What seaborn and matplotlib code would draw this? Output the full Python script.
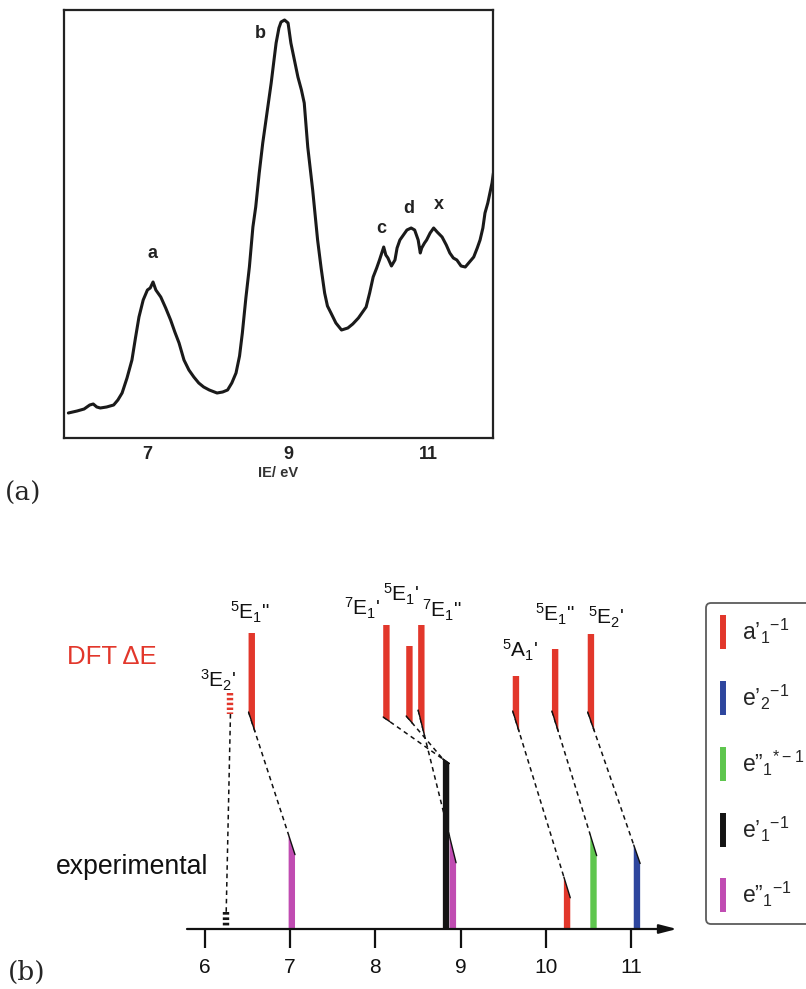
import numpy as np
import matplotlib
matplotlib.use('Agg')
import matplotlib.pyplot as plt
import seaborn as sns
from matplotlib.lines import Line2D

# ---- (a) photoelectron spectrum ----
ie_ev = [5.876, 6.00, 6.10, 6.18, 6.23, 6.28, 6.33, 6.42, 6.52, 6.58, 6.64, 6.71, 6.78, 6.83,
         6.88, 6.94, 7.00, 7.04, 7.08, 7.12, 7.19, 7.26, 7.33, 7.39, 7.45, 7.52, 7.59, 7.66,
         7.73, 7.80, 7.88, 7.99, 8.07, 8.14, 8.20, 8.26, 8.31, 8.35, 8.40, 8.45, 8.50, 8.54,
         8.59, 8.64, 8.70, 8.76, 8.80, 8.83, 8.87, 8.90, 8.95, 9.00, 9.04, 9.09, 9.14, 9.19,
         9.23, 9.28, 9.35, 9.42, 9.47, 9.52, 9.56, 9.61, 9.68, 9.76, 9.85, 9.92, 10.00, 10.06,
         10.11, 10.16, 10.21, 10.26, 10.30, 10.36, 10.39, 10.42, 10.47, 10.52, 10.55, 10.59,
         10.64, 10.69, 10.75, 10.80, 10.85, 10.88, 10.90, 10.94, 10.97, 11.02, 11.07, 11.12,
         11.19, 11.25, 11.30, 11.35, 11.40, 11.46, 11.52, 11.58, 11.64, 11.69, 11.73, 11.77,
         11.80, 11.84, 11.87, 11.90, 11.92]
intensity = [25, 27, 29, 33, 34, 31, 30, 31, 33, 38, 45, 60, 78, 100,
             121, 138, 148, 150, 156, 148, 141, 130, 118, 106, 95, 78, 68, 61,
             55, 51, 48, 45, 46, 48, 55, 65, 82, 105, 140, 171, 211, 231,
             265, 295, 325, 355, 378, 395, 410, 416, 418, 415, 395, 378, 361, 348,
             335, 291, 248, 198, 170, 145, 132, 125, 115, 108, 110, 114, 120, 126,
             131, 145, 161, 170, 178, 191, 183, 180, 172, 178, 190, 198,
             203, 208, 210, 208, 198, 185, 190, 195, 198, 205, 210, 206,
             201, 193, 185, 180, 178, 172, 171, 176, 181, 190, 198, 210,
             225, 235, 245, 255, 265]
peak_names = ['a', 'b', 'c', 'd', 'x']
peak_ev = [7.07, 8.60, 10.33, 10.72, 11.15]
peak_int = [185, 405, 210, 230, 234]

# ---- (b) DFT vs experimental ionisation energies ----
dft_states = ["$^3$E$_2$'", '$^5$E$_1$"', "$^7$E$_1$'", "$^5$E$_1$'", '$^7$E$_1$"',
              "$^5$A$_1$'", '$^5$E$_1$"', "$^5$E$_2$'"]
dft_ev = [6.30, 6.55, 8.13, 8.40, 8.54, 9.65, 10.11, 10.53]
dft_top = [236, 296, 304, 283, 304, 253, 280, 295]
dft_bottom = [215, 217, 212, 213, 219, 218, 218, 217]

exp_ev = [6.25, 7.02, 8.83, 8.91, 10.25, 10.56, 11.07]
exp_height = [17, 94, 170, 92, 52, 94, 84]
exp_orbital = ['e1p', 'e1pp', 'e1p', 'e1pp', 'a1p', 'e1pp*', 'e2p']
dft_to_exp = [0, 1, 2, 2, 3, 4, 5, 6]
tentative = [0]          # 3E2' -> dashed assignment

orbitals = ['a1p', 'e2p', 'e1pp*', 'e1p', 'e1pp']
orbital_labels = ['a’$_1$$^{-1}$', 'e’$_2$$^{-1}$', 'e”$_1$$^{*-1}$',
                  'e’$_1$$^{-1}$', 'e”$_1$$^{-1}$']
palette = dict(zip(orbitals, ['#e2372b', '#2e469e', '#5ec64e', '#141414', '#c04cb2']))
dft_color = '#e2372b'

# label offsets (pixels) from the top of each DFT bar
label_offsets = [(-12, 13), (-2, 21), (-24, 17), (-8, 52), (21, 15), (4, 26), (0, 35), (15, 17)]

sns.set_theme(style='white')
plt.rcParams['font.family'] = ['Liberation Sans', 'DejaVu Sans']
plt.rcParams['mathtext.fontset'] = 'custom'
plt.rcParams['mathtext.rm'] = 'Liberation Sans'
plt.rcParams['mathtext.default'] = 'regular'

W, H = 806, 989
fig = plt.figure(figsize=(W / 100, H / 100), dpi=100)


def fbox(x0, y0, x1, y1):
    return [x0 / W, 1 - y1 / H, (x1 - x0) / W, (y1 - y0) / H]


# ---------- panel (a) ----------
ax1 = fig.add_axes(fbox(64, 10, 493, 438))
sns.lineplot(x=ie_ev, y=intensity, sort=False, estimator=None, color='#1a1a1a', lw=2.2, ax=ax1)
for name, xe, yi in zip(peak_names, peak_ev, peak_int):
    ax1.text(xe, yi, name, ha='center', va='center', fontsize=13, fontweight='bold', color='#222')
ax1.set_xlim(5.814, 11.914)
ax1.set_ylim(0, 428)
ax1.set_xticks([7, 9, 11])
ax1.set_yticks([])
ax1.tick_params(axis='x', direction='in', length=14, width=1.6, pad=6,
                labelsize=13, colors='#222')
for lab in ax1.get_xticklabels():
    lab.set_fontweight('bold')
for sp in ax1.spines.values():
    sp.set_color('#222')
    sp.set_linewidth(1.6)
ax1.set_xlabel('IE/ eV', fontsize=10.5, fontweight='bold', color='#333', labelpad=2)
fig.text(5 / W, 1 - 493 / H, '(a)', fontsize=19, family='DejaVu Serif', va='center', ha='left')

# ---------- panel (b) ----------
ax2 = fig.add_axes(fbox(187, 580, 677, 929))
xmin, xmax = 5.79, 11.54
ax2.set_xlim(xmin, xmax)
ax2.set_ylim(0, 349)
w = 0.075

# slope of each assignment line (height per eV)
slopes = []
for i, j in enumerate(dft_to_exp):
    if i in tentative:
        slopes.append(0.0)
    else:
        slopes.append((exp_height[j] - dft_bottom[i]) / (exp_ev[j] - dft_ev[i]))
exp_slope = {}
for i, j in enumerate(dft_to_exp):
    exp_slope.setdefault(j, slopes[i])

# assignment lines
for i, j in enumerate(dft_to_exp):
    if i in tentative:
        ax2.plot([dft_ev[i], exp_ev[j]], [dft_bottom[i], exp_height[j]], color='#111',
                 lw=1.1, ls=(0, (3, 2.5)), zorder=1)
        continue
    s = slopes[i]
    ax0, ay0 = dft_ev[i] - w / 2, dft_bottom[i]
    bx0, by0 = exp_ev[j] - w / 2, exp_height[j]
    ax2.plot([ax0, bx0], [ay0, by0], color='#111', lw=1.1, ls=(0, (3, 2.5)), zorder=1)
    ax2.plot([ax0, ax0 + w], [ay0, ay0 + s * w], color='#111', lw=1.0, zorder=3)
    sj = exp_slope[j]
    ax2.plot([bx0, bx0 + w], [by0, by0 + sj * w], color='#111', lw=1.0, zorder=3)

# DFT bars
for i, e in enumerate(dft_ev):
    if i in tentative:
        ax2.plot([e, e], [dft_top[i], dft_bottom[i]], color=dft_color, lw=4.6,
                 ls=(0, (0.38, 0.38)), solid_capstyle='butt', zorder=2)
    else:
        s = slopes[i]
        xs = [e - w / 2, e + w / 2, e + w / 2, e - w / 2]
        ys = [dft_top[i], dft_top[i], dft_bottom[i] + s * w, dft_bottom[i]]
        ax2.fill(xs, ys, color=dft_color, lw=0, zorder=2)
    dx, dy = label_offsets[i]
    ax2.annotate(dft_states[i], (e, dft_top[i]), xytext=(dx, dy), textcoords='offset pixels',
                 ha='center', va='center', fontsize=15, color='#111', annotation_clip=False)

# experimental bars
for j, e in enumerate(exp_ev):
    col = palette[exp_orbital[j]]
    if j in tentative:
        ax2.plot([e, e], [exp_height[j], 0], color=col, lw=4.6,
                 ls=(0, (0.42, 0.42)), solid_capstyle='butt', zorder=2)
    else:
        s = exp_slope[j]
        xs = [e - w / 2, e + w / 2, e + w / 2, e - w / 2]
        ys = [0, 0, exp_height[j] + s * w, exp_height[j]]
        ax2.fill(xs, ys, color=col, lw=0, zorder=2)

# energy axis with arrow
ax2.annotate('', xy=(xmax, 0), xytext=(xmin, 0), annotation_clip=False,
             arrowprops=dict(arrowstyle='-|>,head_length=0.7,head_width=0.18',
                             mutation_scale=15, lw=1.6, color='#111', shrinkA=0, shrinkB=0))
for sp in ax2.spines.values():
    sp.set_visible(False)
ax2.set_xticks([6, 7, 8, 9, 10, 11])
ax2.set_yticks([])
ax2.tick_params(axis='x', bottom=True, direction='out', length=14, width=1.6,
                pad=7, labelsize=15, colors='#111')

fig.text(67 / W, 1 - 657 / H, 'DFT ΔE', fontsize=18.5, color=dft_color, va='center', ha='left')
fig.text(56 / W, 1 - 867 / H, 'experimental', fontsize=19.2, color='#111', va='center', ha='left')
fig.text(8 / W, 1 - 972 / H, '(b)', fontsize=19, family='DejaVu Serif', va='center', ha='left')

handles = [Line2D([], [], ls='none', marker='|', markersize=24, markeredgewidth=4.3,
                  color=palette[o]) for o in orbitals]
leg = fig.legend(handles, orbital_labels, loc='upper left',
                 bbox_to_anchor=(706 / W, 1 - 603 / H), borderaxespad=0,
                 fontsize=16.5, handlelength=0.25, handletextpad=0.68, borderpad=0.62,
                 labelspacing=1.6, frameon=True, fancybox=True)
leg.get_frame().set_edgecolor('#333')
leg.get_frame().set_linewidth(1.3)

fig.savefig('out.png', dpi=100)
